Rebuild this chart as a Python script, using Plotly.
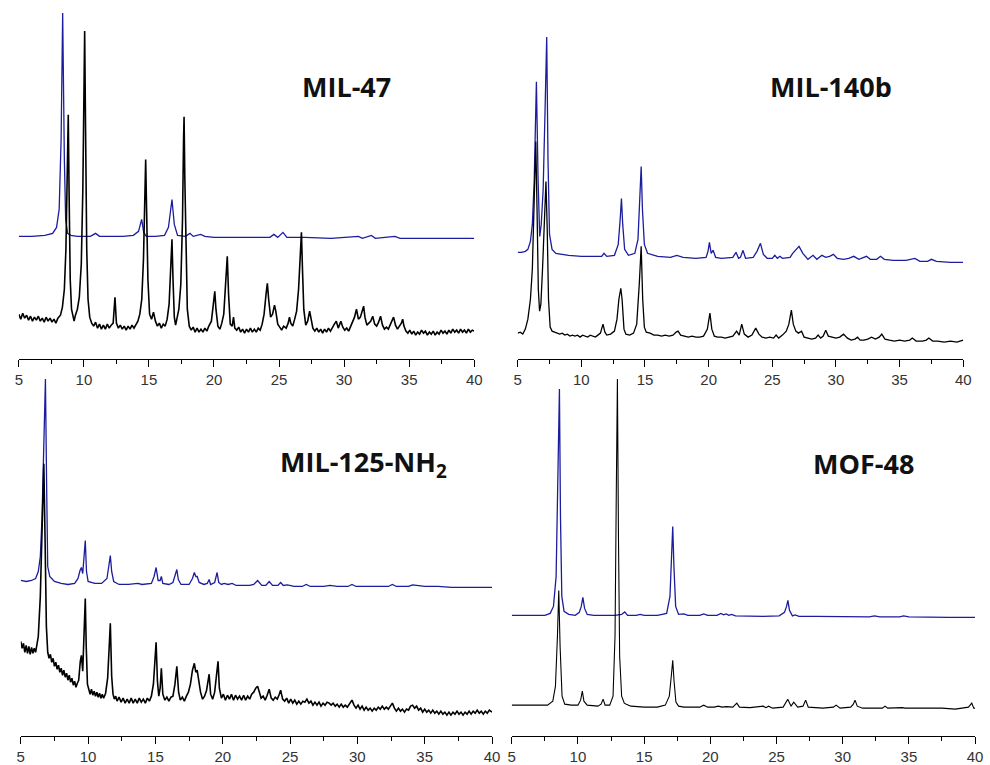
import plotly.graph_objects as go

# ---------------- data (2theta in degrees, intensity in a.u.) ----------------
two_theta_ticks = [5, 10, 15, 20, 25, 30, 35, 40]
tick_labels = ["5", "10", "15", "20", "25", "30", "35", "40"]

panel_titles = ["MIL-47", "MIL-140b", "MIL-125-NH<sub>2</sub>", "MOF-48"]

mil47_sim = [(5.0,123),(6.0,123),(7.0,124),(7.6,126),(7.9,132),(8.1,150),(8.25,220),(8.37,347),(8.5,200),(8.6,140),
 (8.75,126),(9.0,124),(9.5,123),(10.5,123),(10.9,126),(11.2,123),(12.0,123),(13.0,123),(13.8,124),(14.2,128),(14.44,140),
 (14.6,127),(14.8,123),(15.5,123),(16.2,124),(16.5,132),(16.77,160),(16.95,135),(17.2,124),(17.8,123),(18.16,126),(18.4,123),
 (18.97,125),(19.3,123),(20,122),(22,122),(24.3,122),(24.6,125),(24.9,122),(25.3,127),(25.6,122),(27,122),(29,121),(31.1,123),
 (31.4,121),(32.1,124),(32.4,121),(33.9,123),(34.3,121),(36,121),(38,121),(40,121)]

mil47_exp = [(5.0,45),(5.15,40),(5.3,46),(5.45,41),(5.6,44),(5.75,39),(5.9,43),(6.05,38),(6.2,42),(6.35,39),(6.5,43),(6.65,38),
 (6.8,41),(6.95,37),(7.1,42),(7.25,38),(7.4,41),(7.55,37),(7.7,40),(7.85,36),(8.0,41),(8.2,44),(8.35,52),(8.5,70),(8.62,110),
 (8.72,190),(8.8,245),(8.87,160),(8.95,80),(9.05,50),(9.15,42),(9.25,38),(9.35,44),(9.5,50),(9.65,62),(9.8,95),(9.92,170),
 (10.0,280),(10.06,329),(10.13,230),(10.22,110),(10.32,60),(10.45,42),(10.6,36),(10.75,33),(10.9,37),(11.05,31),(11.2,35),
 (11.35,30),(11.5,34),(11.65,30),(11.8,35),(11.95,31),(12.1,34),(12.25,36),(12.39,62),(12.5,36),(12.65,31),(12.8,34),(12.95,30),
 (13.1,33),(13.25,29),(13.4,33),(13.55,30),(13.7,34),(13.85,31),(14.0,35),(14.15,38),(14.3,45),(14.45,60),(14.58,100),(14.68,160),
 (14.75,200),(14.82,150),(14.92,80),(15.05,45),(15.2,40),(15.35,47),(15.5,38),(15.65,33),(15.8,36),(15.95,31),(16.1,35),(16.25,33),
 (16.4,40),(16.55,55),(16.68,90),(16.77,120),(16.85,80),(16.95,42),(17.05,34),(17.15,40),(17.3,50),(17.45,75),(17.58,140),
 (17.66,220),(17.7,243),(17.76,180),(17.85,100),(17.95,50),(18.1,33),(18.25,29),(18.4,32),(18.55,27),(18.7,31),(18.85,27),
 (19.0,30),(19.15,27),(19.3,31),(19.45,28),(19.6,33),(19.8,38),(19.95,55),(20.06,68),(20.15,50),(20.3,33),(20.45,30),(20.6,36),
 (20.75,45),(20.9,75),(21.02,103),(21.12,65),(21.25,35),(21.4,33),(21.5,42),(21.6,31),(21.75,29),(21.9,32),(22.05,27),(22.2,30),
 (22.35,26),(22.5,30),(22.65,27),(22.8,31),(22.95,27),(23.1,30),(23.25,27),(23.4,31),(23.55,29),(23.7,35),(23.85,45),(24.0,65),
 (24.1,76),(24.2,60),(24.35,42),(24.5,45),(24.65,54),(24.75,48),(24.9,35),(25.05,32),(25.2,29),(25.35,33),(25.55,31),(25.7,36),
 (25.8,42),(25.9,36),(26.05,33),(26.2,40),(26.35,48),(26.5,70),(26.62,110),(26.72,127),(26.8,90),(26.9,50),(27.05,34),(27.2,38),
 (27.35,48),(27.45,40),(27.6,31),(27.75,28),(27.9,31),(28.05,27),(28.2,30),(28.35,26),(28.5,30),(28.65,27),(28.8,31),(28.95,28),
 (29.1,32),(29.25,35),(29.4,38),(29.55,31),(29.75,38),(29.9,32),(30.05,29),(30.2,31),(30.35,28),(30.5,33),(30.65,36),(30.8,42),
 (30.95,50),(31.1,40),(31.25,42),(31.4,48),(31.5,53),(31.6,42),(31.75,34),(31.9,36),(32.05,38),(32.2,43),(32.35,35),(32.5,33),
 (32.65,37),(32.8,43),(32.95,34),(33.1,30),(33.25,32),(33.4,30),(33.55,34),(33.7,38),(33.8,42),(33.95,34),(34.1,30),(34.25,33),
 (34.4,36),(34.5,40),(34.6,33),(34.75,28),(34.9,26),(35.05,29),(35.2,25),(35.35,28),(35.5,24),(35.65,27),(35.8,25),(35.95,29),
 (36.1,26),(36.25,28),(36.4,24),(36.55,27),(36.7,25),(36.85,28),(37.0,24),(37.15,27),(37.3,25),(37.45,29),(37.6,26),(37.75,28),
 (37.9,25),(38.05,29),(38.2,26),(38.35,30),(38.5,27),(38.65,29),(38.8,26),(38.95,30),(39.1,27),(39.25,29),(39.4,26),(39.55,30),
 (39.7,27),(39.85,29),(40.0,28)]

mil140b_sim = [(5.0,107),(5.3,107),(5.6,108),(5.8,110),(6.0,118),(6.15,135),(6.3,180),(6.47,278),(6.6,180),(6.73,123),(6.85,135),
 (7.0,170),(7.15,250),(7.28,323),(7.38,200),(7.5,125),(7.7,110),(8.0,106),(9,104),(10,103),(11,103),(11.6,103),(11.78,106),
 (12.0,103),(12.6,104),(12.9,115),(13.05,140),(13.15,161),(13.25,135),(13.4,110),(13.7,104),(14.2,106),(14.45,120),(14.6,160),
 (14.7,193),(14.8,150),(14.95,115),(15.2,106),(16,103),(17,102),(17.5,104),(18,102),(19,101),(19.8,102),(19.95,108),(20.06,117),
 (20.2,106),(20.35,109),(20.55,102),(21,101),(21.9,102),(22.15,107),(22.35,101),(22.5,102),(22.7,109),(22.9,101),(23.5,102),
 (23.8,108),(24.07,116),(24.3,105),(24.6,101),(25.0,101),(25.2,104),(25.4,101),(25.6,103),(25.8,101),(26.4,102),(26.6,106),
 (26.85,110),(27.1,113),(27.4,106),(27.8,100),(28.2,104),(28.5,100),(28.9,104),(29.2,102),(29.5,103),(29.8,105),(30.1,101),
 (30.6,100),(31.0,101),(31.4,103),(31.8,100),(32.4,103),(32.7,100),(33.2,100),(33.5,103),(33.8,100),(34.5,99),(35.5,99),
 (36.2,101),(36.6,98),(37.2,98),(37.5,100),(37.9,98),(39,97),(40,97)]

mil140b_exp = [(5.0,26),(5.2,27),(5.4,25),(5.6,30),(5.8,40),(6.0,60),(6.15,90),(6.3,150),(6.42,218),(6.52,150),(6.62,70),
 (6.72,48),(6.82,55),(6.95,90),(7.1,140),(7.22,178),(7.32,130),(7.42,60),(7.55,32),(7.7,28),(7.9,27),(8.1,26),(8.3,25),(8.5,26),
 (8.7,24),(8.9,25),(9.1,23),(9.3,24),(9.5,23),(9.7,24),(9.9,22),(10.1,24),(10.3,23),(10.5,22),(10.7,24),(10.9,23),(11.1,22),
 (11.3,24),(11.5,26),(11.7,35),(11.85,27),(12.0,24),(12.3,25),(12.6,28),(12.8,40),(12.95,60),(13.1,71),(13.2,60),(13.35,30),
 (13.5,25),(13.8,24),(14.1,26),(14.35,35),(14.55,75),(14.7,113),(14.82,60),(14.95,32),(15.1,27),(15.4,26),(15.7,24),(16.0,24),
 (16.3,23),(16.6,24),(16.9,23),(17.2,24),(17.45,27),(17.6,28),(17.8,24),(18.1,23),(18.4,22),(18.7,23),(19.0,22),(19.3,22),
 (19.6,23),(19.9,30),(20.1,46),(20.25,30),(20.45,23),(20.7,22),(21.0,22),(21.3,21),(21.6,22),(21.9,23),(22.2,28),(22.4,24),
 (22.6,35),(22.8,25),(23.1,22),(23.4,24),(23.7,31),(23.95,25),(24.2,22),(24.5,21),(24.8,22),(25.1,21),(25.3,24),(25.5,21),
 (25.8,24),(26.1,28),(26.3,35),(26.5,49),(26.65,35),(26.85,28),(27.05,26),(27.3,28),(27.5,22),(27.8,21),(28.1,20),(28.4,21),
 (28.6,24),(28.8,21),(29.0,23),(29.2,29),(29.4,23),(29.7,22),(30.0,21),(30.3,22),(30.6,25),(30.9,21),(31.2,19),(31.5,20),
 (31.7,22),(31.9,19),(32.2,19),(32.5,20),(32.8,22),(33.1,20),(33.4,22),(33.6,25),(33.85,20),(34.2,19),(34.6,18),(35.0,19),
 (35.4,18),(35.8,19),(36.0,21),(36.3,18),(36.8,18),(37.1,19),(37.3,21),(37.6,18),(38.0,18),(38.5,17),(39.0,18),(39.5,17),(40.0,19)]

mil125_sim = [(5.0,156),(5.4,155),(5.8,156),(6.1,158),(6.3,165),(6.45,180),(6.58,220),(6.7,300),(6.83,358),(6.92,250),(7.0,170),
 (7.15,160),(7.5,155),(8,153),(8.5,152),(9.0,153),(9.25,158),(9.4,166),(9.5,169),(9.6,163),(9.7,180),(9.79,196),(9.88,165),
 (10.0,155),(10.5,153),(11.0,153),(11.4,158),(11.55,170),(11.65,181),(11.75,165),(11.9,155),(12.3,152),(13,152),(13.7,153),
 (14,152),(14.7,153),(14.9,160),(15.05,169),(15.2,156),(15.35,156),(15.44,160),(15.55,153),(16.0,152),(16.3,154),(16.5,162),
 (16.59,167),(16.7,157),(16.9,152),(17.5,152),(17.75,158),(17.89,164),(18.0,160),(18.1,160),(18.25,154),(18.6,152),(18.85,153),
 (18.99,157),(19.1,152),(19.4,154),(19.58,164),(19.7,154),(19.9,152),(20.1,153),(20.4,152),(20.7,153),(21.0,151),(21.5,151),
 (22.0,151),(22.3,152),(22.59,156),(22.9,151),(23.2,151),(23.45,155),(23.7,151),(24.1,151),(24.3,154),(24.5,151),(24.8,151.5),
 (25.3,150),(25.9,150),(26.2,152),(26.5,150),(27.5,150),(27.96,151),(28.5,150),(29.3,150),(29.6,152),(29.9,150),(31,150),
 (32.3,150),(32.6,152),(32.9,150),(33.8,150),(34.1,151.5),(34.4,151),(35,150),(36,150),(37,149),(38,149),(39,149),(40,149)]

mil125_exp = [(5.0,95),(5.1,88),(5.2,93),(5.3,84),(5.4,91),(5.5,83),(5.6,90),(5.7,82),(5.8,89),(5.9,83),(6.0,88),(6.1,84),
 (6.2,92),(6.3,100),(6.45,140),(6.6,230),(6.71,273),(6.8,200),(6.9,110),(7.0,84),(7.1,78),(7.2,82),(7.3,74),(7.4,78),(7.5,70),
 (7.6,74),(7.7,67),(7.8,71),(7.9,64),(8.0,68),(8.1,61),(8.2,66),(8.3,59),(8.4,63),(8.5,56),(8.6,61),(8.7,54),(8.8,58),(8.9,51),
 (9.0,55),(9.1,49),(9.2,53),(9.3,56),(9.42,75),(9.5,81),(9.6,65),(9.72,110),(9.79,138),(9.86,90),(9.95,52),(10.05,47),(10.15,42),
 (10.25,47),(10.35,41),(10.45,45),(10.55,40),(10.65,44),(10.75,39),(10.85,43),(10.95,38),(11.05,42),(11.15,38),(11.3,43),
 (11.45,58),(11.55,85),(11.65,113),(11.75,60),(11.85,42),(11.95,37),(12.05,40),(12.15,35),(12.3,39),(12.45,34),(12.6,38),
 (12.75,33),(12.9,37),(13.05,33),(13.2,38),(13.35,33),(13.5,37),(13.65,33),(13.8,38),(13.95,34),(14.1,37),(14.25,33),(14.4,38),
 (14.55,35),(14.7,40),(14.85,52),(14.95,80),(15.05,94),(15.15,55),(15.25,40),(15.35,48),(15.44,68),(15.55,42),(15.7,36),(15.85,39),
 (16.0,35),(16.15,39),(16.3,40),(16.45,52),(16.59,70),(16.72,44),(16.85,36),(17.0,39),(17.15,35),(17.3,40),(17.45,44),(17.6,52),
 (17.75,66),(17.89,73),(18.0,64),(18.1,66),(18.2,58),(18.35,44),(18.5,37),(18.65,40),(18.8,46),(18.99,62),(19.1,42),(19.25,37),
 (19.4,44),(19.52,58),(19.65,75),(19.75,48),(19.9,38),(20.05,42),(20.2,36),(20.35,41),(20.5,37),(20.65,42),(20.8,36),(20.95,41),
 (21.1,37),(21.25,40),(21.4,36),(21.55,41),(21.7,36),(21.85,40),(22.0,37),(22.15,42),(22.3,44),(22.45,48),(22.59,50),(22.7,45),
 (22.85,38),(23.0,40),(23.15,36),(23.3,41),(23.45,47),(23.6,38),(23.75,36),(23.9,39),(24.05,37),(24.2,42),(24.3,46),(24.45,37),
 (24.6,35),(24.75,38),(24.9,33),(25.05,37),(25.2,33),(25.35,36),(25.5,32),(25.65,35),(25.8,32),(25.95,35),(26.1,34),(26.25,37),
 (26.4,33),(26.55,35),(26.7,31),(26.85,34),(27.0,31),(27.15,34),(27.3,30),(27.45,33),(27.6,31),(27.75,34),(27.9,33),(28.05,31),
 (28.2,33),(28.35,30),(28.5,32),(28.65,29),(28.8,32),(28.95,29),(29.1,31),(29.25,29),(29.4,32),(29.6,36),(29.75,31),(29.9,28),
 (30.05,31),(30.2,27),(30.35,30),(30.5,26),(30.65,29),(30.8,26),(30.95,28),(31.1,25),(31.25,28),(31.4,26),(31.55,29),(31.7,27),
 (31.85,30),(32.0,27),(32.15,29),(32.3,27),(32.45,30),(32.6,33),(32.75,28),(32.9,25),(33.05,28),(33.2,25),(33.35,27),(33.5,24),
 (33.65,27),(33.8,26),(33.95,30),(34.1,31),(34.25,28),(34.4,30),(34.55,26),(34.7,28),(34.85,24),(35.0,27),(35.15,24),(35.3,26),
 (35.45,23),(35.6,26),(35.75,23),(35.9,25),(36.05,22),(36.2,25),(36.35,22),(36.5,24),(36.65,21),(36.8,24),(36.95,21),(37.1,24),
 (37.25,22),(37.4,25),(37.55,22),(37.7,24),(37.85,21),(38.0,24),(38.15,22),(38.3,25),(38.45,22),(38.6,25),(38.75,23),(38.9,26),
 (39.05,23),(39.2,25),(39.35,22),(39.5,25),(39.65,23),(39.8,26),(40.0,24)]

mof48_sim = [(5.0,121),(5.5,121),(6,121.5),(6.5,121),(7,121),(7.5,121),(7.9,123),(8.15,130),(8.35,160),(8.5,260),(8.6,348),
 (8.68,220),(8.78,140),(8.95,125),(9.3,122),(9.8,121),(10.1,124),(10.25,130),(10.37,139),(10.5,128),(10.7,122),(11.2,121),
 (12.0,121),(12.8,121),(13.3,122),(13.53,124.5),(13.75,121),(14.4,121),(14.7,122),(15.0,121),(16.0,121),(16.7,123),(16.95,140),
 (17.08,180),(17.16,210),(17.25,170),(17.38,130),(17.6,122),(18.0,122.5),(18.3,121),(19.2,121),(19.5,122.5),(19.8,121),
 (20.5,121),(20.8,123),(21.0,121.5),(21.2,122.5),(21.4,121),(21.6,122),(21.9,120.5),(23,120),(24,120),(25.2,120.5),(25.6,124),
 (25.76,130),(25.86,136),(25.98,126),(26.2,120.5),(26.4,121.5),(26.7,120),(28,120),(30,119.5),(32,119.5),(32.4,120.5),
 (32.8,119.5),(34.3,119.5),(34.6,120.5),(35,119.5),(37,119),(38,119),(40,119)]

mof48_exp = [(5.0,31),(6,31),(7,30.5),(7.7,31),(8.1,35),(8.3,50),(8.45,100),(8.55,146),(8.65,90),(8.8,40),(9.0,32),(9.5,31),
 (10.0,31),(10.2,36),(10.33,45),(10.45,35),(10.7,31),(11.5,30),(11.75,32),(11.9,37),(12.05,31),(12.4,31),(12.65,40),(12.8,100),
 (12.9,250),(12.98,358),(13.06,200),(13.15,80),(13.3,40),(13.5,33),(13.65,32),(14,30),(15,29),(16,29),(16.6,31),(16.9,40),
 (17.05,60),(17.16,76),(17.26,55),(17.4,34),(17.6,30),(18.0,29),(18.4,29),(19.2,29),(19.5,31),(19.8,29),(20.3,29),(20.6,30),
 (20.9,29),(21.2,29.5),(21.7,29),(22.0,33),(22.2,29),(23,28.5),(24.0,30),(24.2,28.5),(24.4,30),(24.7,28),(25.5,29),(25.85,37),
 (26.1,30),(26.3,34),(26.6,29),(27.0,30),(27.2,36),(27.4,29),(28.5,28),(29.3,29),(29.5,31),(29.8,28),(30.6,29),(30.8,32),
 (30.93,36),(31.1,30),(31.5,28),(33.0,28),(33.2,30),(33.4,28),(34.5,28.5),(34.7,28),(36,28),(37.5,28),(38.5,27),(39.5,29),
 (39.75,33),(39.9,28),(40,28)]

# ---------------- figure ----------------
W, H = 990, 765
BLUE = "#1c1c9e"
BLACK = "#000000"

panels = [
    # (sim, exp, x0px, x1px, axis_y_px, top_px, title_x, title_y, black width)
    (mil47_sim, mil47_exp, 15, 476, 360, 0, 347, 87, 1.6),
    (mil140b_sim, mil140b_exp, 520, 971, 360, 0, 837, 87, 1.3),
    (mil125_sim, mil125_exp, 17, 494, 738, 370, 364, 465, 1.6),
    (mof48_sim, mof48_exp, 514, 983, 738, 370, 870, 465, 1.1),
]

fig = go.Figure()
layout = dict(
    width=W, height=H, margin=dict(l=0, r=0, t=0, b=0),
    paper_bgcolor="white", plot_bgcolor="white", showlegend=False,
)
annotations = []
for i, (sim, exp, x0, x1, ay, top, tx, ty, bw) in enumerate(panels):
    n = "" if i == 0 else str(i + 1)
    xa, ya = "x" + n, "y" + n
    fig.add_trace(go.Scatter(x=[p[0] for p in sim], y=[p[1] for p in sim], mode="lines",
                             line=dict(color=BLUE, width=1.3), xaxis=xa, yaxis=ya, hoverinfo="skip"))
    fig.add_trace(go.Scatter(x=[p[0] for p in exp], y=[p[1] for p in exp], mode="lines",
                             line=dict(color=BLACK, width=bw), xaxis=xa, yaxis=ya, hoverinfo="skip"))
    layout["xaxis" + n] = dict(
        domain=[x0 / W, x1 / W], range=[5, 40], anchor=ya,
        showline=True, linecolor="black", linewidth=1.3, mirror=False,
        showgrid=False, zeroline=False,
        ticks="outside", ticklen=7, tickwidth=1.2, tickcolor="black",
        tickvals=two_theta_ticks, ticktext=tick_labels,
        tickfont=dict(family="Liberation Sans, Arial, sans-serif", size=15, color="#333333"),
        minor=dict(ticks="outside", ticklen=4, tickwidth=1.2, tickcolor="black",
                   tickvals=[7.5, 12.5, 17.5, 22.5, 27.5, 32.5, 37.5]),
        fixedrange=True,
    )
    layout["yaxis" + n] = dict(
        domain=[(H - ay) / H, (H - top) / H], range=[0, ay - top], anchor=xa,
        visible=False, showgrid=False, zeroline=False, fixedrange=True,
    )
    annotations.append(dict(
        text="<b>" + panel_titles[i] + "</b>", xref="paper", yref="paper",
        x=tx / W, y=1 - ty / H, xanchor="center", yanchor="middle", showarrow=False,
        font=dict(family="Open Sans, Lato, sans-serif", size=27, color="#111111"),
    ))
layout["annotations"] = annotations
fig.update_layout(**layout)
fig.write_html("out.html")
